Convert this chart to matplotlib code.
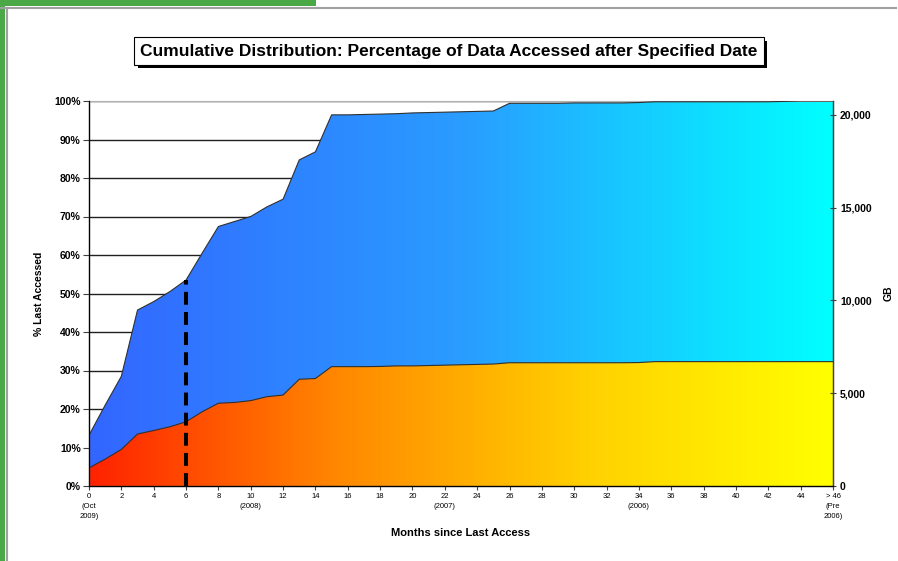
import numpy as np
import matplotlib.pyplot as plt
from matplotlib.colors import LinearSegmentedColormap
from matplotlib.patches import Rectangle
from matplotlib.lines import Line2D

plt.rcParams['font.family'] = ['Liberation Sans', 'DejaVu Sans']

# months since last access (0 .. >46)
months = list(range(0, 47))

# cumulative % of data last accessed (upper, blue area)
pct_accessed = [13.2, 21.0, 28.5, 45.7, 47.9, 50.5, 53.5, 60.5, 67.4, 68.7,
                70.0, 72.5, 74.5, 84.7, 86.8, 96.4, 96.4, 96.5, 96.6, 96.7,
                96.9, 97.0, 97.1, 97.2, 97.3, 97.4, 99.4, 99.4, 99.4, 99.4,
                99.5, 99.5, 99.5, 99.5, 99.6, 99.8, 99.8, 99.8, 99.8, 99.8,
                99.8, 99.8, 99.8, 99.9, 100.0, 100.0, 100.0]

# cumulative GB accessed (lower, red/yellow area)
gb_accessed = [975, 1450, 1970, 2800, 2990, 3190, 3460, 4000, 4460, 4500,
               4600, 4810, 4900, 5750, 5790, 6430, 6430, 6430, 6440, 6470,
               6470, 6490, 6510, 6530, 6550, 6570, 6640, 6640, 6640, 6640,
               6640, 6640, 6640, 6640, 6650, 6700, 6700, 6700, 6700, 6700,
               6700, 6700, 6700, 6700, 6700, 6700, 6700]

gb_max = 20740
cutoff_month = 6

tick_months = list(range(0, 47, 2))
tick_labels = [str(m) for m in tick_months]
tick_labels[0] = "0\n(Oct\n2009)"
tick_labels[5] = "10\n(2008)"
tick_labels[11] = "22\n(2007)"
tick_labels[17] = "34\n(2006)"
tick_labels[23] = "> 46\n(Pre\n2006)"

pct_ticks = list(range(0, 101, 10))
gb_ticks = [0, 5000, 10000, 15000, 20000]

fig = plt.figure(figsize=(8.98, 5.61), dpi=100)

# page decoration: green borders with grey rules
fig.patches.append(Rectangle((0, 0), 5 / 898, 1, transform=fig.transFigure,
                             facecolor='#4aa946', edgecolor='none'))
fig.patches.append(Rectangle((0, 1 - 6 / 561), 316 / 898, 6 / 561, transform=fig.transFigure,
                             facecolor='#4aa946', edgecolor='none'))
fig.lines.append(Line2D([0, 0.998], [1 - 7.5 / 561] * 2, transform=fig.transFigure,
                        color='#a0a0a0', lw=1.5))
fig.lines.append(Line2D([6.5 / 898] * 2, [0, 1 - 7.5 / 561], transform=fig.transFigure,
                        color='#a0a0a0', lw=1.5))

ax = fig.add_axes([89 / 898, 1 - 486 / 561, 744 / 898, 385 / 561])
ax.set_xlim(0, 46)
ax.set_ylim(0, 100)

x = np.array(months, dtype=float)
upper = np.array(pct_accessed)
lower_pct = np.array(gb_accessed) / gb_max * 100

blue_cmap = LinearSegmentedColormap.from_list('blue', ['#3366ff', '#2a9cff', '#00ffff'])
warm_cmap = LinearSegmentedColormap.from_list('warm', ['#ff2200', '#ff8800', '#ffd000', '#ffff00'])
grad = np.linspace(0, 1, 256).reshape(1, -1)

# upper (blue) area
poly_up = ax.fill_between(x, 0, upper, facecolor='none', edgecolor='none')
im_up = ax.imshow(grad, cmap=blue_cmap, aspect='auto', extent=[0, 46, 0, 100],
                  origin='lower', zorder=1, interpolation='bilinear')
im_up.set_clip_path(poly_up.get_paths()[0], transform=ax.transData)
ax.plot(x, upper, color='#303030', lw=0.8, zorder=3)

# lower (warm) area
poly_lo = ax.fill_between(x, 0, lower_pct, facecolor='none', edgecolor='none')
im_lo = ax.imshow(grad, cmap=warm_cmap, aspect='auto', extent=[0, 46, 0, 100],
                  origin='lower', zorder=2, interpolation='bilinear')
im_lo.set_clip_path(poly_lo.get_paths()[0], transform=ax.transData)
ax.plot(x, lower_pct, color='#303030', lw=0.8, zorder=3)

# dashed cut-off line at 6 months
ax.plot([cutoff_month, cutoff_month], [0, pct_accessed[cutoff_month]], color='black',
        lw=2.9, dashes=(3.2, 1.8), zorder=4, solid_capstyle='butt', dash_capstyle='butt')

ax.set_yticks(pct_ticks)
ax.set_yticklabels([f"{p}%" for p in pct_ticks], fontsize=7.5, fontweight='bold')
ax.yaxis.grid(True, color='#202020', lw=1.0)
ax.set_axisbelow(True)
ax.set_xticks(tick_months)
ax.set_xticklabels(tick_labels, fontsize=5.5, linespacing=1.6)
ax.tick_params(axis='x', length=3, width=0.8, pad=2, color='#404040')
ax.tick_params(axis='y', length=4, width=0.8, pad=2, color='#404040')
ax.set_ylabel("% Last Accessed", fontsize=7.5, fontweight='bold', labelpad=7)
ax.set_xlabel("Months since Last Access", fontsize=8, fontweight='bold', labelpad=6)
for side in ['left', 'bottom', 'right']:
    ax.spines[side].set_color('#404040')
    ax.spines[side].set_linewidth(1.0)
ax.spines['top'].set_color('#b0b0b0')

ax2 = ax.twinx()
ax2.set_ylim(0, gb_max)
ax2.set_yticks(gb_ticks)
ax2.set_yticklabels([f"{g:,}" for g in gb_ticks], fontsize=7.5, fontweight='bold')
ax2.tick_params(axis='y', length=4, width=0.8, pad=3, direction='inout', color='#404040')
ax2.set_ylabel("GB", fontsize=7.5, fontweight='bold', labelpad=9)
ax2.spines['right'].set_color('#404040')
ax2.spines['top'].set_visible(False)

# boxed title with drop shadow
title = "Cumulative Distribution: Percentage of Data Accessed after Specified Date"
t = fig.text(0.5, 0.909, title, ha='center', va='center', fontsize=12.5, fontweight='bold',
             zorder=5,
             bbox=dict(facecolor='white', edgecolor='black', lw=0.8, boxstyle='square,pad=0.35'))
fig.canvas.draw()
bb = t.get_bbox_patch().get_window_extent().transformed(fig.transFigure.inverted())
dx, dy = 3.5 / 898, 3.5 / 561
fig.patches.append(Rectangle((bb.x0 + dx, bb.y0 - dy), bb.width, bb.height,
                             transform=fig.transFigure, facecolor='black',
                             edgecolor='none', zorder=4))

fig.savefig("out.png", dpi=100)
